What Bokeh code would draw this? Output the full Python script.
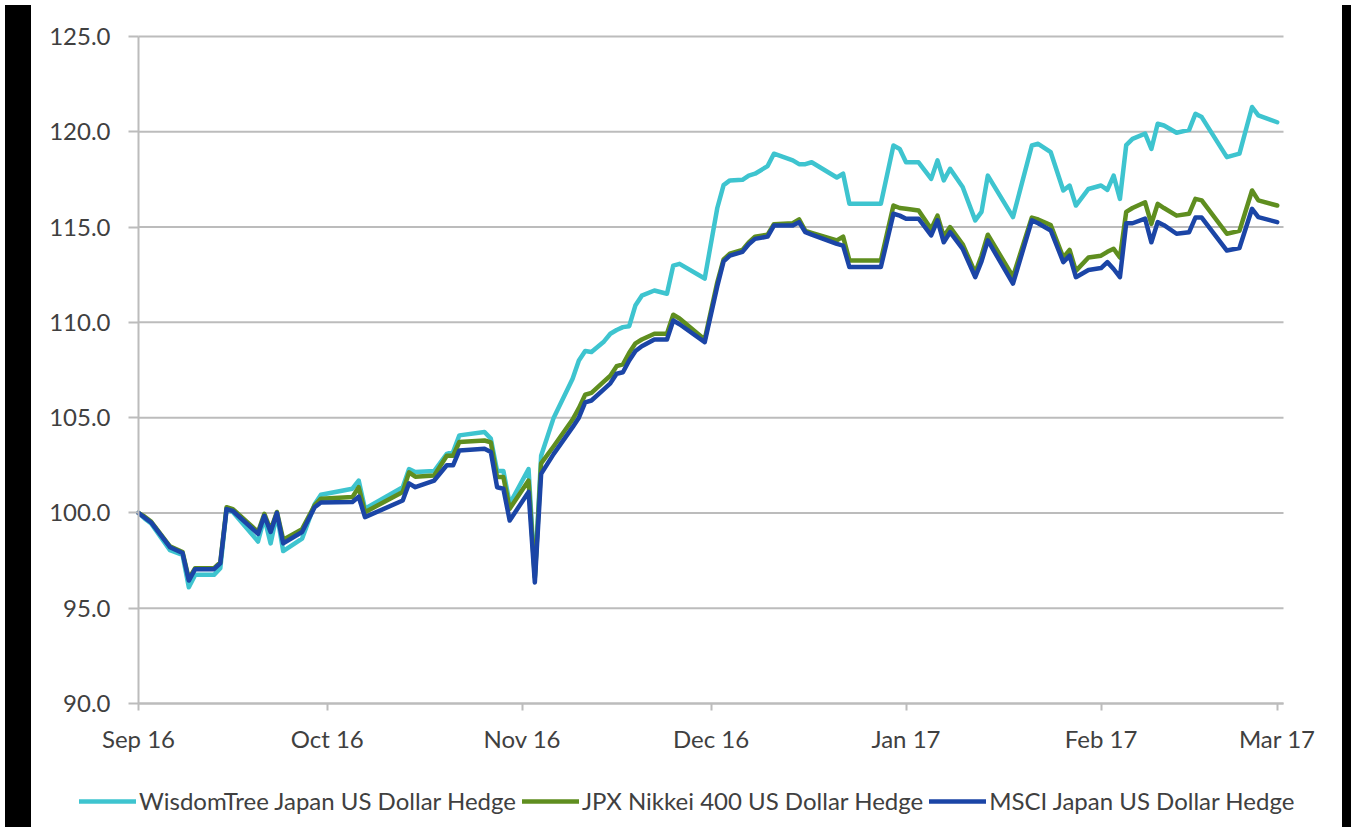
import pandas as pd
from bokeh.plotting import figure
from bokeh.models import (Range1d, FixedTicker, NumeralTickFormatter, DatetimeTickFormatter,
                          DatetimeAxis, LinearAxis, Legend, LegendItem, Div)
from bokeh.layouts import row
from bokeh.embed import file_html
from bokeh.resources import INLINE

# ---------------- data ----------------
dates = [
    "2016-09-01", "2016-09-02", "2016-09-03", "2016-09-06", "2016-09-08", "2016-09-09",
    "2016-09-10", "2016-09-13", "2016-09-14", "2016-09-15", "2016-09-16", "2016-09-20",
    "2016-09-21", "2016-09-22", "2016-09-23", "2016-09-24", "2016-09-27", "2016-09-29",
    "2016-09-30", "2016-10-05", "2016-10-06", "2016-10-07", "2016-10-13", "2016-10-14",
    "2016-10-15", "2016-10-18", "2016-10-20", "2016-10-21", "2016-10-22", "2016-10-26",
    "2016-10-27", "2016-10-28", "2016-10-29", "2016-10-30", "2016-11-02", "2016-11-03",
    "2016-11-04", "2016-11-06", "2016-11-09", "2016-11-10", "2016-11-11", "2016-11-12",
    "2016-11-14", "2016-11-15", "2016-11-16", "2016-11-17", "2016-11-18", "2016-11-19",
    "2016-11-20", "2016-11-22", "2016-11-24", "2016-11-25", "2016-11-26", "2016-11-30",
    "2016-12-02", "2016-12-03", "2016-12-04", "2016-12-06", "2016-12-07", "2016-12-08",
    "2016-12-10", "2016-12-11", "2016-12-14", "2016-12-15", "2016-12-16", "2016-12-17",
    "2016-12-21", "2016-12-22", "2016-12-23", "2016-12-28", "2016-12-30", "2016-12-31",
    "2017-01-01", "2017-01-03", "2017-01-05", "2017-01-06", "2017-01-07", "2017-01-08",
    "2017-01-10", "2017-01-12", "2017-01-13", "2017-01-14", "2017-01-18", "2017-01-21",
    "2017-01-22", "2017-01-24", "2017-01-26", "2017-01-27", "2017-01-28", "2017-01-30",
    "2017-02-01", "2017-02-02", "2017-02-03", "2017-02-04", "2017-02-05", "2017-02-06",
    "2017-02-08", "2017-02-09", "2017-02-10", "2017-02-11", "2017-02-13", "2017-02-15",
    "2017-02-16", "2017-02-17", "2017-02-21", "2017-02-23", "2017-02-25", "2017-02-26",
    "2017-03-01",
]

wisdomtree = [
    100.0, 99.7, 99.45, 98.05, 97.8, 96.1,
    96.75, 96.75, 97.1, 100.2, 100.05, 98.5,
    99.75, 98.4, 99.95, 98.0, 98.65, 100.45,
    100.95, 101.27, 101.7, 100.22, 101.35, 102.3,
    102.15, 102.2, 103.1, 103.2, 104.07, 104.25,
    103.9, 102.2, 102.2, 100.48, 102.3, 96.7,
    103.0, 105.0, 107.04, 108.0, 108.5, 108.44,
    109.0, 109.4, 109.6, 109.75, 109.8, 110.9,
    111.4, 111.67, 111.5, 112.98, 113.07, 112.3,
    116.0, 117.2, 117.45, 117.48, 117.7, 117.8,
    118.2, 118.85, 118.5, 118.3, 118.3, 118.4,
    117.6, 117.8, 116.22, 116.22, 119.28, 119.1,
    118.4, 118.4, 117.53, 118.5, 117.45, 118.06,
    117.1, 115.35, 115.8, 117.7, 115.52, 119.28,
    119.37, 118.93, 116.92, 117.18, 116.13, 117.0,
    117.18, 116.95, 117.7, 116.48, 119.3, 119.63,
    119.9, 119.1, 120.42, 120.33, 119.95, 120.1,
    120.94, 120.77, 118.67, 118.85, 121.3, 120.86,
    120.5,
]

jpx_nikkei_400 = [
    100.0, 99.8, 99.55, 98.25, 97.95, 96.55,
    97.1, 97.1, 97.4, 100.3, 100.2, 99.0,
    99.95, 99.1, 100.05, 98.6, 99.15, 100.4,
    100.75, 100.83, 101.35, 100.04, 101.1, 102.13,
    101.9, 101.96, 103.0, 103.0, 103.72, 103.8,
    103.7, 101.88, 101.88, 100.22, 101.7, 96.6,
    102.6, 103.5, 104.9, 105.5, 106.2, 106.3,
    106.9, 107.2, 107.7, 107.8, 108.4, 108.9,
    109.1, 109.4, 109.4, 110.4, 110.2, 109.1,
    112.1, 113.3, 113.6, 113.8, 114.2, 114.5,
    114.6, 115.15, 115.2, 115.4, 114.8, 114.7,
    114.3, 114.5, 113.25, 113.25, 116.13, 116.0,
    115.96, 115.87, 114.9, 115.6, 114.5, 115.0,
    114.1, 112.6, 113.5, 114.6, 112.4, 115.5,
    115.4, 115.1, 113.4, 113.8, 112.7, 113.4,
    113.5, 113.7, 113.86, 113.4, 115.8, 116.0,
    116.3, 115.17, 116.22, 116.0, 115.6, 115.7,
    116.48, 116.4, 114.65, 114.8, 116.92, 116.4,
    116.13,
]

msci_japan = [
    100.0, 99.75, 99.5, 98.2, 97.9, 96.45,
    97.05, 97.05, 97.35, 100.2, 100.1, 98.9,
    99.85, 99.0, 100.0, 98.4, 99.0, 100.3,
    100.55, 100.57, 100.85, 99.78, 100.65, 101.55,
    101.35, 101.7, 102.5, 102.5, 103.28, 103.37,
    103.2, 101.35, 101.27, 99.6, 101.1, 96.35,
    102.05, 103.1, 104.5, 105.0, 105.8, 105.9,
    106.5, 106.8, 107.3, 107.38, 108.0, 108.5,
    108.75, 109.1, 109.1, 110.1, 109.9, 108.96,
    111.9, 113.2, 113.5, 113.7, 114.1, 114.38,
    114.5, 115.08, 115.08, 115.26, 114.73, 114.6,
    114.12, 114.03, 112.9, 112.9, 115.7, 115.6,
    115.44, 115.44, 114.56, 115.35, 114.2, 114.73,
    113.86, 112.37, 113.2, 114.3, 112.03, 115.35,
    115.2, 114.82, 113.16, 113.5, 112.37, 112.75,
    112.85, 113.16, 112.8, 112.37, 115.2, 115.2,
    115.44, 114.2, 115.26, 115.1, 114.65, 114.73,
    115.5, 115.5, 113.77, 113.9, 115.96, 115.52,
    115.26,
]

series_labels = [
    "WisdomTree Japan US Dollar Hedge",
    "JPX Nikkei 400 US Dollar Hedge",
    "MSCI Japan US Dollar Hedge",
]
series_colors = ["#3ec4cf", "#5f8e1f", "#1b45a6"]

x_tick_dates = ["2016-09-01", "2016-10-01", "2016-11-01", "2016-12-01",
                "2017-01-01", "2017-02-01", "2017-03-01"]
y_ticks = [90, 95, 100, 105, 110, 115, 120, 125]

# ---------------- layout constants (pixels) ----------------
FONT = "Lato"
FONT_SIZE = "24px"
TEXT_COLOR = "#404040"
GRID_COLOR = "#bcbcbc"
LINE_W = 4.5

W, H = 1301, 822            # figure size
PLOT_L, PLOT_R = 102, 1247  # plot area left/right inside the figure
PLOT_T, PLOT_B = 36, 703    # plot area top/bottom inside the figure

x_first = pd.Timestamp(x_tick_dates[0])
x_last = pd.Timestamp(x_tick_dates[-1]) + pd.Timedelta(days=1)
px_per_day = (PLOT_R - PLOT_L) / ((x_last - x_first).total_seconds() / 86400)
x_start = x_first - pd.Timedelta(days=PLOT_L / px_per_day)
x_end = x_last + pd.Timedelta(days=(W - PLOT_R) / px_per_day)

y_lo, y_hi = min(y_ticks), max(y_ticks)
px_per_unit = (PLOT_B - PLOT_T) / (y_hi - y_lo)
y_top = y_hi + PLOT_T / px_per_unit
y_bottom = y_lo - (H - PLOT_B) / px_per_unit

def ms(ts):
    return ts.value / 1e6

x = pd.to_datetime(dates)

p = figure(
    width=W, height=H,
    x_axis_type=None, y_axis_type=None,
    x_range=Range1d(ms(x_start), ms(x_end)),
    y_range=Range1d(y_bottom, y_top),
    output_backend="svg", toolbar_location=None,
    min_border=0, min_border_left=0, min_border_right=0, min_border_top=0, min_border_bottom=0,
    background_fill_color="white", border_fill_color="white",
)
p.outline_line_color = None

# horizontal gridlines (only across the plot area)
p.segment(x0=[ms(x_first)] * len(y_ticks), y0=y_ticks,
          x1=[ms(x_last)] * len(y_ticks), y1=y_ticks,
          line_color=GRID_COLOR, line_width=2)

renderers = []
for vals, col in zip([wisdomtree, jpx_nikkei_400, msci_japan], series_colors):
    r = p.line(x, vals, line_color=col, line_width=LINE_W, line_join="round", line_cap="round")
    renderers.append(r)

# y axis at the first date
yaxis = LinearAxis(
    fixed_location=ms(x_first), bounds=(y_lo, y_hi),
    ticker=FixedTicker(ticks=y_ticks), formatter=NumeralTickFormatter(format="0.0"),
    axis_line_color=GRID_COLOR, axis_line_width=2,
    major_tick_line_color=GRID_COLOR, major_tick_line_width=2,
    major_tick_out=10, major_tick_in=0, minor_tick_line_color=None,
    major_label_standoff=18,
    major_label_text_font=FONT, major_label_text_font_size=FONT_SIZE,
    major_label_text_color=TEXT_COLOR,
)
p.add_layout(yaxis, "left")

# x axis at the bottom value
fmt = "%b %y"
xaxis = DatetimeAxis(
    fixed_location=y_lo, bounds=(ms(x_first), ms(x_last)),
    ticker=FixedTicker(ticks=[ms(pd.Timestamp(d)) for d in x_tick_dates]),
    formatter=DatetimeTickFormatter(
        microseconds=fmt, milliseconds=fmt, seconds=fmt, minsec=fmt, minutes=fmt,
        hourmin=fmt, hours=fmt, days=fmt, months=fmt, years=fmt),
    axis_line_color=GRID_COLOR, axis_line_width=2,
    major_tick_line_color=GRID_COLOR, major_tick_line_width=2,
    major_tick_out=7, major_tick_in=0, minor_tick_line_color=None,
    major_label_standoff=13,
    major_label_text_font=FONT, major_label_text_font_size=FONT_SIZE,
    major_label_text_color=TEXT_COLOR,
)
p.add_layout(xaxis, "below")

legend = Legend(
    items=[LegendItem(label=lab, renderers=[r]) for lab, r in zip(series_labels, renderers)],
    location=(43, 7),
    orientation="horizontal",
    glyph_width=57, glyph_height=24,
    label_standoff=3, spacing=6,
    padding=0, margin=0,
    border_line_color=None, background_fill_alpha=0,
    label_text_font=FONT, label_text_font_size=FONT_SIZE, label_text_color=TEXT_COLOR,
    label_height=24,
)
p.add_layout(legend, "center")

left_bar = Div(width=26, height=H, styles={"background-color": "black"})
right_bar = Div(width=9, height=H, styles={"background-color": "black"})
layout = row(left_bar, p, right_bar)

open("out.html", "w").write(file_html(layout, INLINE))
